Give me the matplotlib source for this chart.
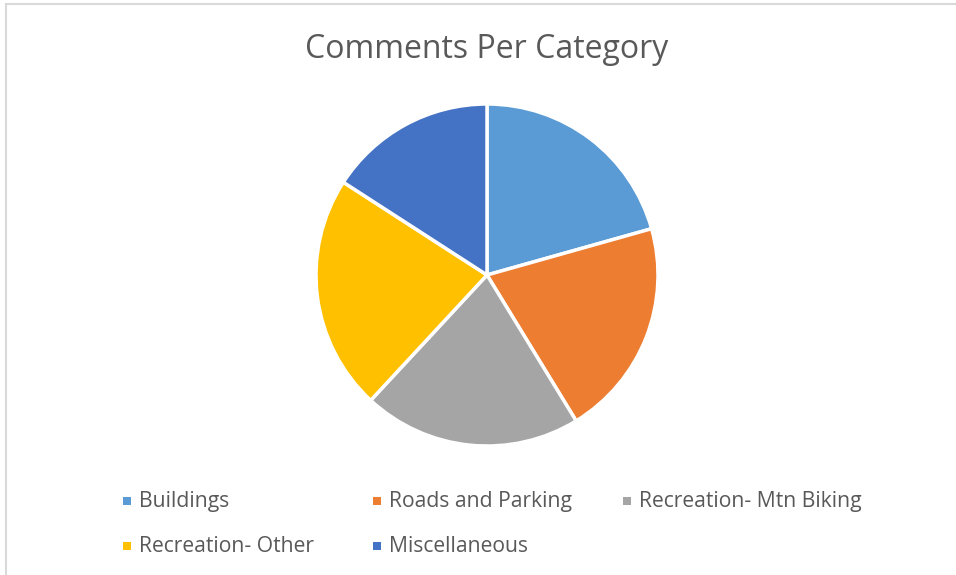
import matplotlib.pyplot as plt
from matplotlib.patches import Rectangle

categories = ["Buildings", "Roads and Parking", "Recreation- Mtn Biking",
              "Recreation- Other", "Miscellaneous"]
comments = [13, 13, 13, 14, 10]
colors = ["#5B9BD5", "#ED7D31", "#A5A5A5", "#FFC000", "#4472C4"]

W, H = 956, 575
plt.rcParams["font.family"] = ["Open Sans", "DejaVu Sans"]
text_color = "#595959"

fig = plt.figure(figsize=(W / 100, H / 100), dpi=100)
fig.patch.set_facecolor("white")

# chart area border (light gray, runs off right/bottom edge)
fig.add_artist(plt.Line2D([6 / W, 6 / W], [0, 1 - 4 / H], color="#D9D9D9", lw=1.5))
fig.add_artist(plt.Line2D([6 / W, 1], [1 - 4 / H, 1 - 4 / H], color="#D9D9D9", lw=1.5))

# pie
cx, cy, r = 487, 275, 171
ax = fig.add_axes([(cx - r) / W, (H - cy - r) / H, 2 * r / W, 2 * r / H])
ax.pie(comments, colors=colors, startangle=90, counterclock=False,
       wedgeprops=dict(edgecolor="white", linewidth=2.5))
ax.set_xlim(-1, 1)
ax.set_ylim(-1, 1)
ax.set_aspect("auto")
ax.axis("off")

fig.text(487 / W, 1 - 49 / H, "Comments Per Category", ha="center", va="center",
         fontsize=23, color=text_color)

# legend laid out like the Excel one: 3 columns, 2 rows
col_x = [127, 377, 627]
row_y = [501, 546]
for i, (name, c) in enumerate(zip(categories, colors)):
    x = col_x[i % 3]
    y = row_y[i // 3]
    fig.add_artist(Rectangle(((x - 4) / W, 1 - (y + 4) / H), 8 / W, 8 / H,
                             transform=fig.transFigure, facecolor=c, edgecolor="none"))
    fig.text((x + 12) / W, 1 - y / H, name, ha="left", va="center",
             fontsize=15.2, color=text_color)

fig.savefig("out.png", dpi=100, facecolor="white")
